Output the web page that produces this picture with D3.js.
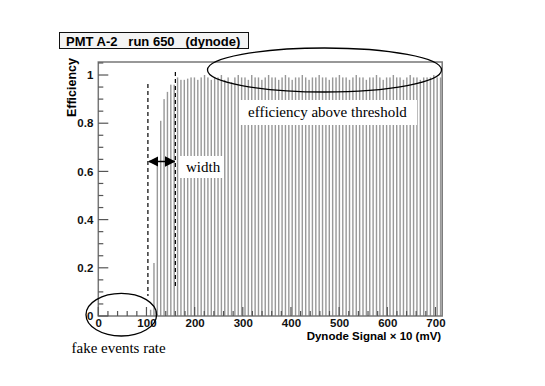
<!DOCTYPE html>
<html>
<head>
<meta charset="utf-8">
<script src="https://cdn.jsdelivr.net/npm/d3@7"></script>
<style>
  body { margin: 0; background: #fff; }
  svg text { font-family: "Liberation Sans", Arial, sans-serif; }
  .note { font-family: "Liberation Serif", "Times New Roman", serif !important; font-size: 15px; }
</style>
</head>
<body>
<div id="chart"></div>
<script>
// histogram data: efficiency per dynode-signal bin
const binStart = 0, binWidth = 7;
const efficiency = [
  0, 0, 0, 0, 0, 0, 0, 0, 0, 0,
  0, 0, 0, 0, 0, 0.026, 0.22, 0.63, 0.81, 0.90,
  0.93, 0.96, 0.96, 0.99, 0.98, 0.98, 0.985, 0.99,
  0.99, 0.98, 0.99, 1.0, 0.99, 0.98, 0.99, 0.99, 1.0, 0.98,
  0.99, 0.97, 0.99, 1.0, 0.99, 0.99, 0.98, 1.0, 0.99, 0.99,
  0.98, 0.99, 1.0, 0.99, 0.99, 0.98, 0.99, 1.0, 0.99, 0.98,
  0.99, 0.99, 1.0, 0.99, 0.98, 0.99, 0.99, 1.0, 0.99, 0.99,
  0.98, 0.99, 0.99, 1.0, 0.99, 0.99, 0.98, 0.99, 1.0, 0.99,
  0.99, 0.98, 0.99, 0.99, 1.0, 0.99, 0.98, 0.99, 0.99, 1.0,
  0.99, 0.99, 0.98, 0.99, 1.0, 0.99, 0.99, 0.98, 0.99, 0.99,
  0.99, 1.0, 0.99, 0.99
];
const xTicks = [0, 100, 200, 300, 400, 500, 600, 700];
const yTicks = [0, 0.2, 0.4, 0.6, 0.8, 1];
const thresholdLines = [103, 160];   // dashed markers (signal units)
const titleText = "PMT A-2   run 650   (dynode)";

const width = 545, height = 386;
const frame = { left: 98.3, right: 442.2, top: 62, bottom: 316 };

const svg = d3.select("#chart").append("svg")
    .attr("width", width)
    .attr("height", height);

const x = d3.scaleLinear().domain([0, 714]).range([frame.left, frame.right]);
const y = d3.scaleLinear().domain([0, 1.054]).range([frame.bottom, frame.top]);

// bars
const bw = x(binWidth) - x(0);
svg.append("g")
  .selectAll("rect")
  .data(efficiency)
  .join("rect")
    .attr("x", (d, i) => x(binStart + i * binWidth) + bw * 0.3)
    .attr("width", bw * 0.42)
    .attr("y", d => y(d))
    .attr("height", d => y(0) - y(d))
    .attr("fill", "#999");

// frame
svg.append("rect")
    .attr("x", frame.left).attr("y", frame.top)
    .attr("width", frame.right - frame.left)
    .attr("height", frame.bottom - frame.top)
    .attr("fill", "none")
    .attr("stroke", "#777")
    .attr("stroke-width", 1.5);

// axes
const xAxis = d3.axisBottom(x).tickValues(xTicks).tickSize(0).tickPadding(3);
const gx = svg.append("g").attr("transform", `translate(0,${frame.bottom})`).call(xAxis);
gx.select(".domain").remove();
gx.selectAll("text").attr("font-size", 11.5).attr("font-weight", "bold").attr("fill", "#111")
  .attr("font-family", "Liberation Sans, Arial, sans-serif");

const yAxis = d3.axisLeft(y).tickValues(yTicks).tickSize(0).tickPadding(5)
    .tickFormat(d => d === 0 ? "0" : d === 1 ? "1" : d3.format(".1f")(d));
const gy = svg.append("g").attr("transform", `translate(${frame.left},0)`).call(yAxis);
gy.select(".domain").remove();
gy.selectAll("text").attr("font-size", 11.5).attr("font-weight", "bold").attr("fill", "#111")
  .attr("font-family", "Liberation Sans, Arial, sans-serif");

// tick marks drawn inside the frame (ROOT style)
const tickG = svg.append("g").attr("stroke", "#555").attr("stroke-width", 1.2);
d3.range(0, 714, 20).forEach(v => {
  const major = v % 100 === 0;
  tickG.append("line")
    .attr("x1", x(v)).attr("x2", x(v))
    .attr("y1", frame.bottom).attr("y2", frame.bottom - (major ? 9 : 5));
});
d3.range(0, 1.06, 0.05).forEach(v => {
  const major = Math.abs(v * 5 - Math.round(v * 5)) < 1e-6;
  tickG.append("line")
    .attr("x1", frame.left).attr("x2", frame.left + (major ? 10 : 5))
    .attr("y1", y(v)).attr("y2", y(v));
});

// axis titles
svg.append("text")
    .attr("transform", `translate(76,${frame.top - 4}) rotate(-90)`)
    .attr("text-anchor", "end")
    .attr("font-size", 12.5)
    .attr("font-weight", "bold")
    .text("Efficiency");

svg.append("text")
    .attr("x", frame.right - 1).attr("y", 340)
    .attr("text-anchor", "end")
    .attr("font-size", 11.5)
    .attr("font-weight", "bold")
    .text("Dynode Signal \u00d7 10 (mV)");

// title box
svg.append("rect")
    .attr("x", 59.5).attr("y", 32.5).attr("width", 189).attr("height", 16)
    .attr("fill", "#f4f4f4").attr("stroke", "#111").attr("stroke-width", 1);
svg.append("text")
    .attr("x", 66).attr("y", 45.5)
    .attr("font-size", 13).attr("font-weight", "bold")
    .attr("xml:space", "preserve")
    .style("white-space", "pre")
    .text(titleText);

// dashed threshold markers
svg.append("line")
    .attr("x1", x(thresholdLines[0])).attr("x2", x(thresholdLines[0]))
    .attr("y1", 84).attr("y2", 296)
    .attr("stroke", "#000").attr("stroke-width", 1.2).attr("stroke-dasharray", "4,3");
svg.append("line")
    .attr("x1", x(thresholdLines[1])).attr("x2", x(thresholdLines[1]))
    .attr("y1", 72).attr("y2", 287)
    .attr("stroke", "#000").attr("stroke-width", 1.2).attr("stroke-dasharray", "4,3");

// width arrow
const defs = svg.append("defs");
defs.append("marker").attr("id", "ah").attr("viewBox", "0 0 10 10")
    .attr("refX", 9).attr("refY", 5).attr("markerWidth", 7).attr("markerHeight", 7)
    .attr("orient", "auto-start-reverse")
  .append("path").attr("d", "M0,0 L10,5 L0,10 z").attr("fill", "#000");
svg.append("line")
    .attr("x1", x(thresholdLines[0]) + 1).attr("x2", x(thresholdLines[1]) - 1)
    .attr("y1", 161.5).attr("y2", 161.5)
    .attr("stroke", "#000").attr("stroke-width", 1.5)
    .attr("marker-start", "url(#ah)").attr("marker-end", "url(#ah)");

svg.append("rect").attr("x", 180).attr("y", 156).attr("width", 43).attr("height", 22).attr("fill", "#fff");
svg.append("text").attr("class", "note").attr("x", 186).attr("y", 172).text("width");

// efficiency above threshold
svg.append("rect").attr("x", 240).attr("y", 100).attr("width", 177).attr("height", 25).attr("fill", "#fff");
svg.append("text").attr("class", "note").attr("x", 248).attr("y", 116.5).text("efficiency above threshold");
svg.append("ellipse")
    .attr("cx", 324.5).attr("cy", 70).attr("rx", 117).attr("ry", 22)
    .attr("fill", "none").attr("stroke", "#000").attr("stroke-width", 1.3);

// fake events rate
svg.append("ellipse")
    .attr("cx", 121.3).attr("cy", 314.7).attr("rx", 35.3).attr("ry", 21.3)
    .attr("fill", "none").attr("stroke", "#000").attr("stroke-width", 1.3);
svg.append("text").attr("class", "note").attr("x", 71.5).attr("y", 353).text("fake events rate");
</script>
</body>
</html>
